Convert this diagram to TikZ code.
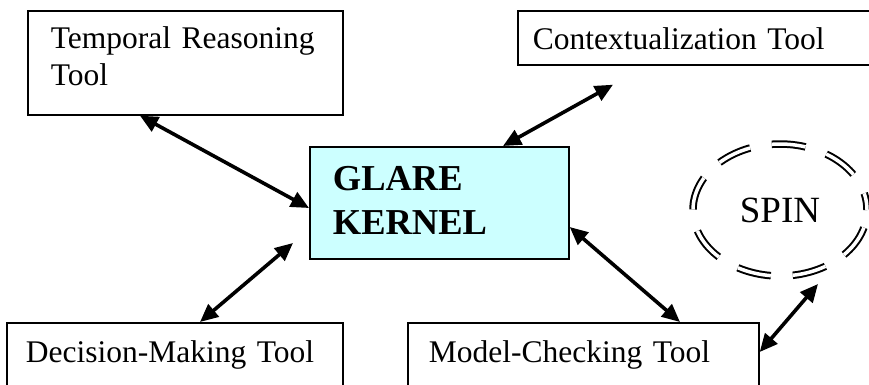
\documentclass[tikz,border=0pt]{standalone}
\usepackage{fontspec}
\setmainfont{Liberation Serif}
\usetikzlibrary{shapes.geometric,arrows.meta,positioning}
\definecolor{kernelcyan}{HTML}{CCFFFF}
\newcommand{\toolfont}{\fontsize{31.5}{37}\selectfont}
\newcommand{\kernelfont}{\fontsize{36.5}{44}\selectfont\bfseries}
\newcommand{\spinfont}{\fontsize{37}{40}\selectfont}

\begin{document}
\begin{tikzpicture}[x=1pt,y=-1pt,
toolbox/.style={shape=rectangle,draw,line width=1.7pt,anchor=north west,inner ysep=0pt,align=left,font=\toolfont},
kernelbox/.style={toolbox,fill=kernelcyan,font=\kernelfont},
spinnode/.style={shape=ellipse,draw,line width=2pt,double,double distance=3.5pt,dash pattern=on 34pt off 22pt,dash phase=17pt,minimum width=174pt,minimum height=132pt,inner sep=0pt,font=\spinfont},
link/.style={draw=black,line width=3.6pt,{Triangle[length=18pt,width=16pt]}-{Triangle[length=18pt,width=16pt]}}]

\useasboundingbox (0,0) rectangle (869,384);
\clip (0,0) rectangle (869,384);

\node [toolbox,inner xsep=23pt,text width=269pt,text height=38pt,text depth=66pt] (trt) at (27,10) {Temporal Reasoning\\Tool};
\node [toolbox,inner xsep=15pt,text width=333pt,text height=39pt,text depth=15pt] (ctx) at (517,10) {Contextualization Tool};
\node [kernelbox,inner xsep=23pt,text width=213pt,text height=44pt,text depth=68pt] (glare) at (309,146) {GLARE\\KERNEL};
\node [toolbox,inner xsep=19pt,text width=298pt,text height=40pt,text depth=40pt] (dec) at (6,322) {Decision-Making Tool};
\node [toolbox,inner xsep=21pt,text width=309pt,text height=40pt,text depth=40pt] (mc) at (407,322) {Model-Checking Tool};
\node [spinnode] (spin) at (780,210) {SPIN};

\draw[link] ([xshift=113pt]trt.south west) -- ([yshift=-62pt]glare.north west);
\draw[link] ([shift={(96pt,-19pt)}]ctx.south west) -- ([xshift=194pt]glare.north west);
\draw[link] ([xshift=194pt]dec.north west) -- ([shift={(-16pt,-97pt)}]glare.north west);
\draw[link] ([yshift=-81pt]glare.north east) -- ([xshift=273pt]mc.north west);
\draw[link] ([yshift=-30pt]mc.north east) -- ([shift={(38pt,-7pt)}]spin.south);

\end{tikzpicture}
\end{document}
